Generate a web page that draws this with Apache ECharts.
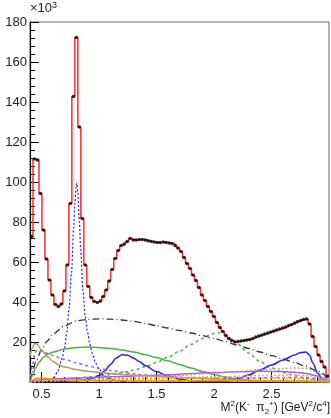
<!DOCTYPE html>
<html>
<head>
<meta charset="utf-8">
<script src="https://cdn.jsdelivr.net/npm/echarts@6/dist/echarts.min.js"></script>
<style>html,body{margin:0;padding:0;background:#fff}#c{width:331px;height:418px}</style>
</head>
<body>
<div id="c"></div>
<script>
// Histogram: 100 bins from 0.4 to 3.0 (width 0.026), counts in units of 10^3
const binLow = 0.4;
const binWidth = 0.026;
const counts = [
  72.7,111.5,111,94.3,76,61.5,51,43.5,38.8,37.7,
  39,45.5,58.5,89.3,142.7,172.3,127.5,81.8,58.5,47.7,
  42.2,40.2,39.8,40.5,42.7,46,50.5,56.3,61.8,65.7,
  68.2,69,70.3,71.8,71,71,71.3,71.3,71,70.6,
  70.3,70,69.8,69.8,70,69.7,69.5,69.3,68.3,67,
  65.2,62.3,59.3,56.7,53.5,50.7,47.3,43.5,40.7,37.7,
  35.2,32.7,29.7,27.3,25.2,23.3,21.8,20.7,20,20.3,
  20.5,20.7,21,21.3,21.8,22.5,23,23.5,24,24.5,
  25,25.5,26,26.5,27,27.5,28.2,28.8,29.5,30.2,
  30.8,31.3,31.5,29,22.7,17.7,13.5,10.2,7.5,3
];
// Fit components [M^2, value]
const dashDot = [[0.40,0],[0.42,5],[0.45,10],[0.50,16],[0.55,20.5],[0.60,24],[0.70,28],[0.80,30.5],[0.90,31.3],[1.00,31.6],[1.10,31.4],[1.20,31],[1.30,30.3],[1.40,29.3],[1.50,28.2],[1.60,27],[1.70,25.8],[1.80,24.5],[1.90,23.2],[2.00,21.8],[2.10,20.2],[2.20,18.5],[2.30,16.8],[2.40,15],[2.50,13.2],[2.60,11.5],[2.70,9.7],[2.80,7.8],[2.90,5.5],[2.95,4],[3.00,0]];
const greenSolid = [[0.40,0],[0.42,3],[0.45,7],[0.48,10],[0.52,12.5],[0.56,14],[0.60,15],[0.70,16.5],[0.80,17.3],[0.90,17.5],[1.00,17.2],[1.10,16.7],[1.20,16],[1.30,15],[1.40,13.7],[1.50,12.2],[1.60,10.6],[1.70,8.8],[1.80,7],[1.90,5.2],[2.00,3.8],[2.10,2.5],[2.20,1.5],[2.30,0.8],[2.40,0.4],[2.60,0.2],[3.00,0]];
const greenDashed = [[0.50,0],[0.60,0.8],[0.70,1.3],[0.80,1.8],[0.90,2.4],[1.00,3],[1.10,3.7],[1.20,4.7],[1.30,5.9],[1.40,7.6],[1.50,9.8],[1.60,12.4],[1.70,15.4],[1.80,18.8],[1.90,21.8],[1.95,23.3],[2.00,24.3],[2.05,24.5],[2.10,23.3],[2.15,21.6],[2.20,19.3],[2.30,14.5],[2.40,10.2],[2.50,7],[2.60,4.8],[2.70,3.2],[2.80,2],[2.90,1],[3.00,0]];
const blueDashed = [[0.55,0],[0.60,1.5],[0.64,5],[0.68,12],[0.70,17],[0.72,25],[0.74,37],[0.76,54],[0.78,77],[0.79,89],[0.80,97],[0.806,99.5],[0.815,95],[0.83,80],[0.84,67],[0.86,46],[0.88,33],[0.90,25],[0.92,19],[0.94,14.5],[0.97,9.5],[1.00,6.5],[1.04,3.5],[1.08,1.8],[1.15,0.6],[1.25,0]];
const blueSolid = [[0.40,0],[0.60,0.3],[0.80,0.8],[0.90,1.3],[0.95,2],[1.00,3.2],[1.05,5.5],[1.10,8.8],[1.15,12],[1.20,13.6],[1.25,13.4],[1.30,12],[1.35,10.3],[1.40,8.3],[1.50,5.2],[1.60,3],[1.70,1.5],[1.80,0.6],[1.90,0.2],[2.00,0.1],[2.10,0.4],[2.20,1.3],[2.30,3.5],[2.40,6],[2.50,8.5],[2.60,11],[2.70,13.5],[2.76,14.8],[2.80,15],[2.83,13.5],[2.86,9.5],[2.90,4.5],[2.95,1],[3.00,0]];
const violetDashed = [[0.40,0],[0.42,8],[0.44,14],[0.46,16],[0.50,15.3],[0.60,13.2],[0.70,11.3],[0.80,9.6],[0.90,8.1],[1.00,6.8],[1.10,5.8],[1.20,4.9],[1.30,4.1],[1.40,3.5],[1.50,3],[1.60,2.6],[1.80,2.1],[2.00,1.9],[2.20,1.9],[2.40,2.1],[2.60,2.3],[2.80,2.3],[2.90,1.8],[3.00,0]];
const violetSolid = [[0.40,0],[0.45,1],[0.60,1.6],[0.80,2],[1.00,2.4],[1.20,2.8],[1.40,3.2],[1.60,3.6],[1.80,4.2],[2.00,4.7],[2.20,5.1],[2.40,5.4],[2.60,5.2],[2.70,4.9],[2.80,4.3],[2.90,3],[2.95,1.8],[3.00,0]];
const oliveSolid = [[0.40,13],[0.42,17],[0.44,19.3],[0.46,19],[0.50,16],[0.55,12.8],[0.60,10.3],[0.65,8.6],[0.70,7.5],[0.80,6.2],[0.90,5.4],[1.00,4.8],[1.10,4.3],[1.20,3.8],[1.30,3.4],[1.40,3.1],[1.50,2.8],[1.60,2.5],[1.80,2],[2.00,1.5],[2.20,1.1],[2.40,0.8],[2.60,0.5],[2.80,0.3],[3.00,0]];
const oliveDotted = [[0.40,0],[0.80,1],[1.20,2],[1.60,3],[2.00,4.3],[2.20,5.2],[2.40,6.1],[2.60,6.8],[2.70,7],[2.80,6.8],[2.90,5],[3.00,0]];
const oliveDotted2 = [[0.40,0],[1.00,1.2],[1.60,2],[2.00,2.6],[2.40,3.2],[2.70,3.5],[2.85,3],[3.00,0]];
const orangeSolid = [[0.40,0],[0.45,1.8],[0.50,2.3],[0.55,1.8],[0.65,1.2],[0.80,0.9],[1.20,0.7],[1.60,0.6],[2.00,0.6],[2.40,0.6],[2.80,0.5],[3.00,0]];
const orangeDotted = [[0.40,0],[0.60,0.8],[1.00,1.2],[1.40,1.6],[1.80,2],[2.20,2.2],[2.60,2],[2.90,1.2],[3.00,0]];
// Axis ticks
const xMajorTicks = [0.5, 1, 1.5, 2, 2.5];
const xMinorTicks = [0.5,0.6,0.7,0.8,0.9,1.0,1.1,1.2,1.3,1.4,1.5,1.6,1.7,1.8,1.9,2.0,2.1,2.2,2.3,2.4,2.5,2.6,2.7,2.8,2.9];

const centers = counts.map((v, i) => [+(binLow + binWidth * (i + 0.5)).toFixed(4), v]);
const stepData = [[binLow, counts[0]]].concat(centers, [[binLow + binWidth * counts.length, counts[counts.length - 1]]]);

function comp(data, color, type, width) {
  return {
    type: 'line', data: data, xAxisIndex: 0, symbol: 'none', smooth: 0.3, smoothMonotone: 'x',
    lineStyle: { color: color, width: width || 1.4, type: type || 'solid' }, z: 3, silent: true, animation: false
  };
}

const chart = echarts.init(document.getElementById('c'), null, { renderer: 'canvas' });
const font = 'Liberation Sans, Arial, Helvetica, sans-serif';
chart.setOption({
  animation: false,
  title: {
    text: 'M{sup|2}(K{sup|-}  π{sub|2}{sup|+}) [GeV{sup|2}/c{sup|4}]',
    right: 1, top: 400, padding: 0,
    textStyle: {
      fontSize: 12, fontWeight: 'normal', color: '#222', fontFamily: font, lineHeight: 16,
      rich: {
        sup: { fontSize: 8, verticalAlign: 'top', lineHeight: 9, color: '#222', fontFamily: font },
        sub: { fontSize: 8, verticalAlign: 'bottom', lineHeight: 9, color: '#222', fontFamily: font }
      }
    }
  },
  grid: { left: 30, right: 2, top: 22, bottom: 36, show: true, borderColor: '#666', borderWidth: 1, containLabel: false, outerBoundsMode: 'none' },
  xAxis: [{
    type: 'value', min: 0.4, max: 3.0,
    axisLine: { show: true, lineStyle: { color: '#000', width: 1 } },
    axisTick: { show: true, inside: true, length: 10, customValues: xMajorTicks, lineStyle: { color: '#000' } },
    axisLabel: { customValues: xMajorTicks, margin: 6, color: '#222', fontSize: 13, fontFamily: font, formatter: v => String(v) },
    splitLine: { show: false }
  }, {
    type: 'value', min: 0.4, max: 3.0, position: 'bottom',
    axisLine: { show: false },
    axisTick: { show: true, inside: true, length: 5, customValues: xMinorTicks, lineStyle: { color: '#000' } },
    axisLabel: { show: false }, splitLine: { show: false }
  }],
  yAxis: {
    type: 'value', min: 0, max: 180, interval: 20,
    axisLine: { show: true, lineStyle: { color: '#000', width: 1.2 } },
    axisTick: { show: true, inside: true, length: 9, lineStyle: { color: '#000' } },
    minorTick: { show: true, splitNumber: 5, length: 5, lineStyle: { color: '#000' } },
    axisLabel: { margin: 3, color: '#222', fontSize: 13, fontFamily: font, formatter: v => v === 0 ? '' : String(v) },
    splitLine: { show: false },
    name: '×10{sup|3}', nameLocation: 'end', nameGap: 3,
    nameTextStyle: {
      align: 'left', verticalAlign: 'bottom', color: '#222', fontSize: 13, fontFamily: font, lineHeight: 15,
      rich: { sup: { fontSize: 9, verticalAlign: 'top', lineHeight: 9, color: '#222', fontFamily: font } }
    }
  },
  series: [
    comp(dashDot, '#333', [7, 3, 1, 3], 1.3),
    comp(greenSolid, '#4daf4a', 'solid', 1.5),
    comp(greenDashed, '#4daf4a', [3, 3], 1.5),
    comp(blueDashed, '#1a1aff', [2, 2], 1.2),
    comp(blueSolid, '#2222ff', 'solid', 1.5),
    comp(violetDashed, '#b05be0', [3, 3], 1.5),
    comp(violetSolid, '#b05be0', 'solid', 1.5),
    comp(oliveSolid, '#aaa060', 'solid', 1.5),
    comp(oliveDotted, '#b8a860', [2, 2], 1.4),
    comp(oliveDotted2, '#c8b870', [2, 2], 1.4),
    comp(orangeSolid, '#ff9900', 'solid', 1.5),
    comp(orangeDotted, '#ff9900', [2, 2], 1.4),
    {
      type: 'line', data: stepData, step: 'middle', symbol: 'none', z: 4,
      lineStyle: { color: '#ff2a2a', width: 1.5 }, silent: true
    },
    {
      type: 'scatter', data: centers, symbol: 'circle', symbolSize: 3.5, z: 5,
      itemStyle: { color: '#000' }, silent: true
    }
  ]
});
</script>
</body>
</html>
